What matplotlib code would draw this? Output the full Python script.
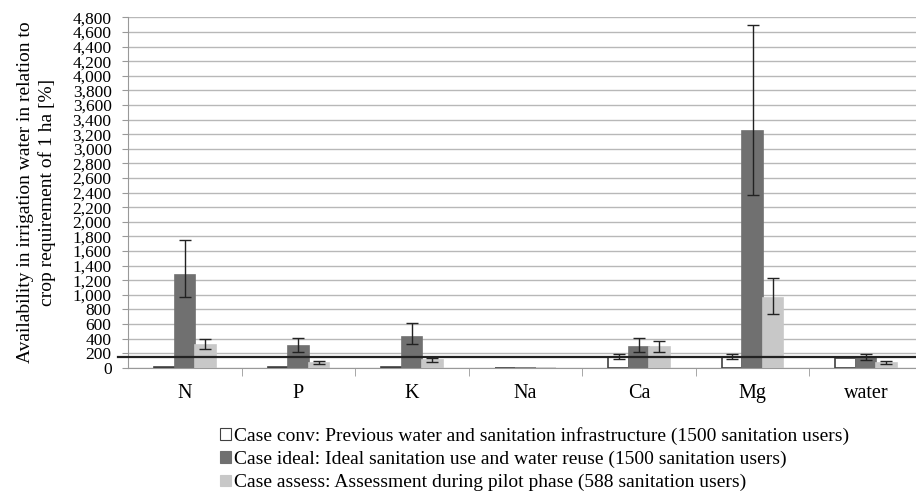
import numpy as np
import matplotlib
matplotlib.use("Agg")
import matplotlib.pyplot as plt

plt.rcParams['font.family'] = ['Liberation Serif', 'DejaVu Serif']

categories = ["N", "P", "K", "Na", "Ca", "Mg", "water"]

# bar heights [%]
conv = [8, 8, 8, 3, 146, 146, 140]
ideal = [1277, 296, 422, 3, 286, 3238, 142]
assess = [309, 68, 105, 3, 286, 954, 68]

# error bar upper / lower ends
conv_hi = [0, 0, 0, 0, 183, 183, 0]
conv_lo = [0, 0, 0, 0, 119, 119, 0]
ideal_hi = [1753, 409, 619, 0, 409, 4700, 191]
ideal_lo = [973, 218, 323, 0, 218, 2366, 101]
assess_hi = [391, 87, 136, 0, 368, 1236, 87]
assess_lo = [251, 50, 82, 0, 218, 732, 50]

ref_line = 150

labels = ["Case conv: Previous water and sanitation infrastructure (1500 sanitation users)",
          "Case ideal: Ideal sanitation use and water reuse (1500 sanitation users)",
          "Case assess: Assessment during pilot phase (588 sanitation users)"]

fig = plt.figure(figsize=(9.16, 4.91), dpi=100)
ax = fig.add_axes([0.140, 0.251, 0.8674, 0.7136])

x = np.arange(len(categories))
w = 0.18
series = [(conv, conv_lo, conv_hi, "white", "#404040"),
          (ideal, ideal_lo, ideal_hi, "#707070", "#707070"),
          (assess, assess_lo, assess_hi, "#c8c8c8", "#c8c8c8")]

handles = []
for i, (vals, lo, hi, fc, ec) in enumerate(series):
    pos = x + (i - 1) * w
    b = ax.bar(pos, vals, w, color=fc, edgecolor=ec, linewidth=1.2, zorder=3)
    handles.append(b)
    vals = np.array(vals, float)
    lo = np.array(lo, float)
    hi = np.array(hi, float)
    m = hi > 0
    ax.errorbar(pos[m], vals[m], yerr=[vals[m] - lo[m], hi[m] - vals[m]],
                fmt="none", ecolor="#222222", elinewidth=1, capsize=4.5,
                capthick=1, zorder=4)

ax.axhline(ref_line, xmin=-0.013, xmax=1, color="#222222", linewidth=1.6,
           zorder=5, clip_on=False)

ax.set_xlim(-0.5, len(categories) - 0.5)
ax.set_ylim(0, 4800)
ax.set_yticks(np.arange(0, 4801, 200))
ax.set_yticklabels([f"{v:,}" for v in range(0, 4801, 200)], fontsize=12.5)
ax.set_xticks(x)
ax.set_xticklabels(categories, fontsize=14.5)
ax.set_xticks(np.arange(0.5, len(categories) - 0.5, 1), minor=True)
ax.tick_params(axis="x", which="major", length=0, pad=12)
ax.tick_params(axis="x", which="minor", length=6, color="#999999")
ax.tick_params(axis="y", length=4, color="#999999", pad=8)

ax.grid(axis="y", color="#b8b8b8", linewidth=1, zorder=0)
for s in ["top", "right"]:
    ax.spines[s].set_visible(False)
for s in ["left", "bottom"]:
    ax.spines[s].set_color("#999999")

ax.set_ylabel("Availability in irrigation water in relation to\ncrop requirement of 1 ha [%]",
              fontsize=14, linespacing=1.25, labelpad=12)

leg = fig.legend(handles, labels, loc="upper left", bbox_to_anchor=(0.240, 0.130),
                 frameon=False, fontsize=14, handlelength=0.55, handleheight=0.55,
                 handletextpad=0.2, labelspacing=0.3, borderaxespad=0,
                 borderpad=0)
for h in leg.legend_handles:
    h.set_linewidth(0.8)

fig.savefig("out.png", dpi=100)
